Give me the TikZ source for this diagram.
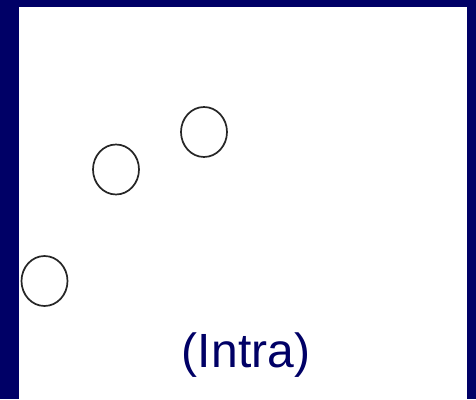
\documentclass[tikz,border=0pt]{standalone}
\usepackage{fontspec}
\setmainfont{Liberation Sans}
\usetikzlibrary{shapes.geometric}
\definecolor{navyframe}{HTML}{000066}
\tikzset{
  ring/.style={draw=black!85, line width=1.7pt, ellipse, minimum width=46pt, minimum height=50pt, inner sep=0pt},
  caption/.style={text=navyframe, font=\fontsize{48pt}{56pt}\selectfont, inner sep=0pt, anchor=base}
}
\begin{document}
\begin{tikzpicture}[x=1pt,y=1pt]
\useasboundingbox (0,0) rectangle (476,399);
\fill[navyframe] (0,0) rectangle (476,399);
\fill[white] (19,0) rectangle (467,392);
\node[ring] (c1) at (204,267) {};
\node[ring] (c2) at (116,229.5) {};
\node[ring] (c3) at (44.5,118) {};
\node[caption] (lbl) at (246,32) {(Intra)};
\end{tikzpicture}
\end{document}
